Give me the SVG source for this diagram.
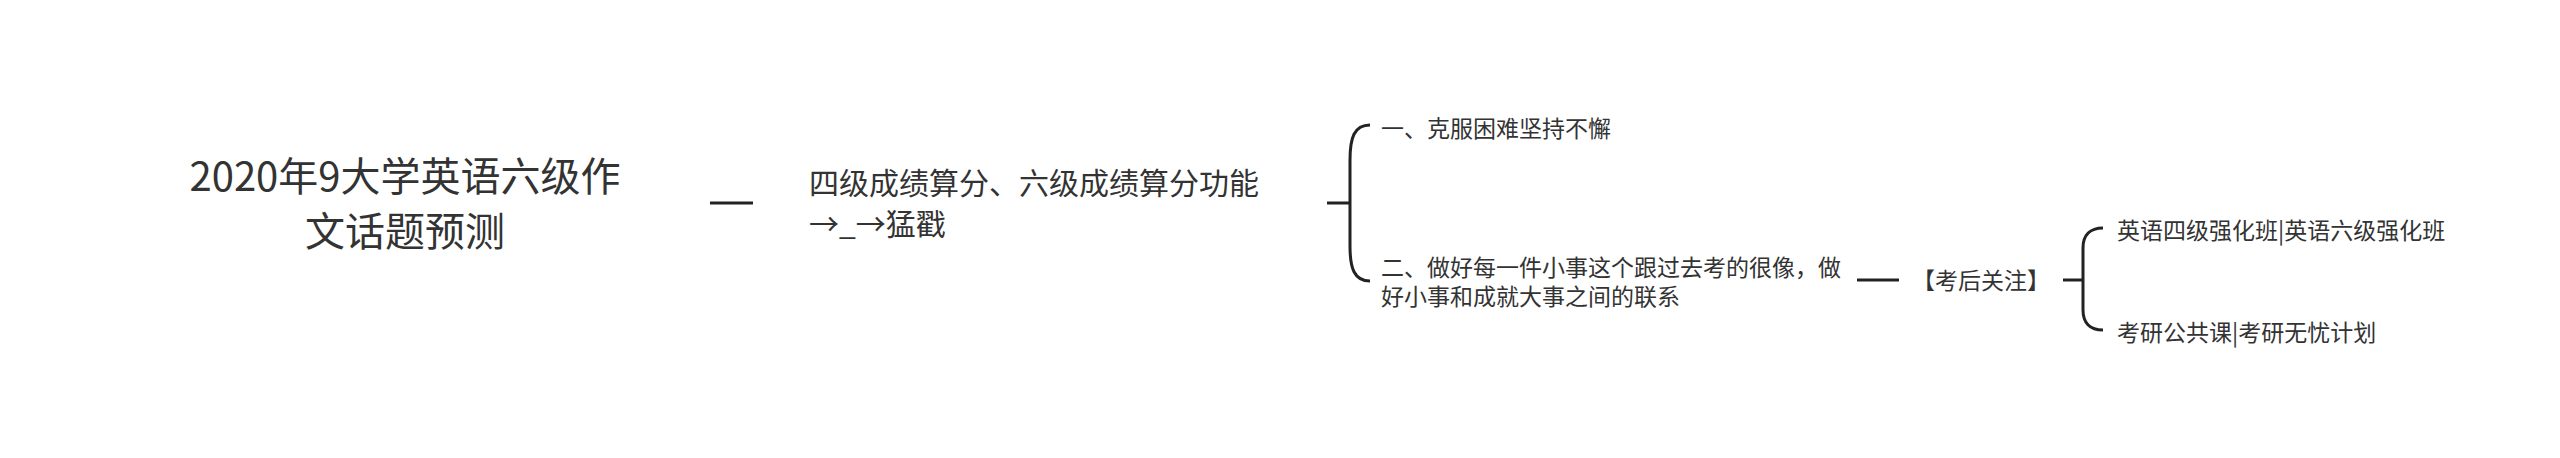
<svg xmlns="http://www.w3.org/2000/svg" width="2560" height="458" viewBox="0 0 2560 458">
<style>
text{font-family:"Noto Sans CJK SC","Noto Sans",sans-serif;fill:#333;}
.root{font-size:40px;text-anchor:middle;}
.n2{font-size:30px;}
.leaf{font-size:23px;}
.ln{fill:none;stroke:#222;stroke-width:3;stroke-linecap:butt;}
</style>
<rect width="2560" height="458" fill="#fff"/>
<g id="connectors">
<line class="ln" x1="710" y1="203" x2="753" y2="203"/>
<path class="ln" d="M1327,203 L1350,203 M1370,125 C1354,125 1350,138 1350,160 L1350,246 C1350,268 1354,281 1370,281"/>
<line class="ln" x1="1857" y1="280" x2="1899" y2="280"/>
<path class="ln" d="M2063,280 L2083,280 M2103,228 C2090,228 2083,235 2083,248 L2083,310 C2083,323 2090,330 2103,330"/>
</g>
<g id="root">
<text class="root"><tspan x="405" y="190.5">2020年9大学英语六级作</tspan><tspan x="405" y="245.5">文话题预测</tspan></text>
</g>
<g id="node-score">
<text class="n2"><tspan x="809" y="194">四级成绩算分、六级成绩算分功能</tspan><tspan x="809" y="235">→_→猛戳</tspan></text>
</g>
<g id="node-1">
<text class="leaf" x="1381" y="136.5">一、克服困难坚持不懈</text>
</g>
<g id="node-2">
<text class="leaf"><tspan x="1381" y="275.5">二、做好每一件小事这个跟过去考的很像，做</tspan><tspan x="1381" y="304.5">好小事和成就大事之间的联系</tspan></text>
</g>
<g id="node-after">
<text class="leaf" x="1912" y="288.5">【考后关注】</text>
</g>
<g id="node-cet">
<text class="leaf" x="2117" y="238.5">英语四级强化班|英语六级强化班</text>
</g>
<g id="node-kaoyan">
<text class="leaf" x="2117" y="340.5">考研公共课|考研无忧计划</text>
</g>
</svg>
